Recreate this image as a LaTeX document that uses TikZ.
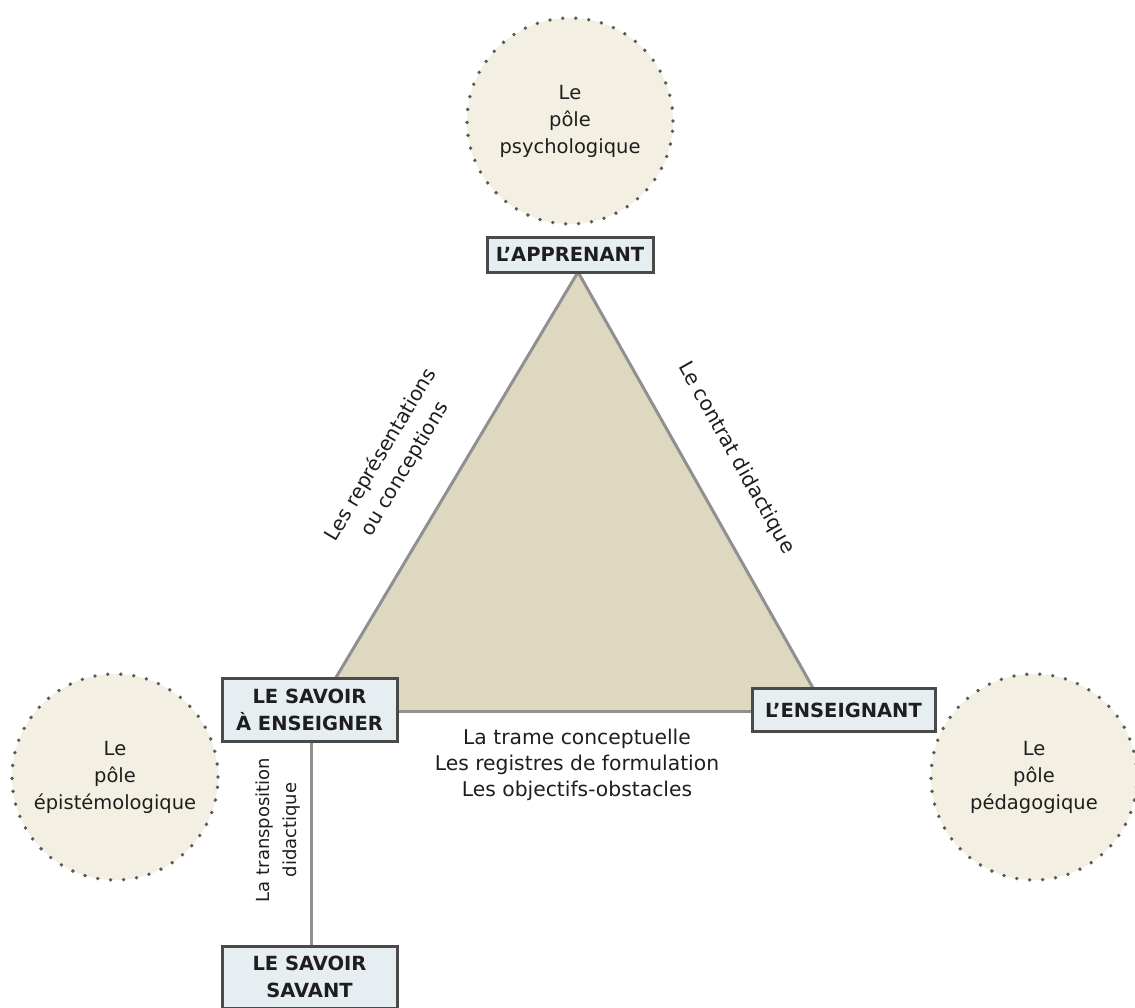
\documentclass[tikz,border=0pt]{standalone}
\usepackage{fontspec}
\setmainfont{DejaVu Sans}
\begin{document}
\begin{tikzpicture}[x=1pt,y=-1pt,
  pole/.style={circle,fill=poleFill,draw=dotGray,line width=3.8pt,
    dash pattern=on 0pt off 13pt,line cap=round,minimum size=206pt,
    align=center,font=\fontsize{19.5}{27}\selectfont,text=textDark},
  actor/.style={rectangle,fill=boxFill,draw=boxEdge,line width=3pt,
    align=center,font=\bfseries\fontsize{19.5}{27}\selectfont,text=textDark,inner sep=0pt},
  edgelabel/.style={align=center,font=\fontsize{20.3}{26}\selectfont,text=textDark},
  side/.style={draw=sideGray,line width=3pt}
]
\definecolor{poleFill}{HTML}{F3F0E3}
\definecolor{dotGray}{HTML}{5A5A5A}
\definecolor{boxFill}{HTML}{E7EEF1}
\definecolor{boxEdge}{HTML}{4A4A4A}
\definecolor{triFill}{HTML}{DDD8BF}
\definecolor{sideGray}{HTML}{909090}
\definecolor{textDark}{HTML}{1E1E1E}

\useasboundingbox (0,0) rectangle (1135,1007);

% the three poles
\node[pole] (psy) at (570,121) {Le\\pôle\\psychologique};
\node[pole] (epi) at (115,777) {Le\\pôle\\épistémologique};
\node[pole] (ped) at (1034,777) {Le\\pôle\\pédagogique};

% corner points of the didactic triangle
\coordinate (top) at (578,272);
\coordinate (bl) at (316,711);
\coordinate (br) at (826,711);

\fill[triFill] (top) -- (bl) -- (br) -- cycle;
\draw[side] (top) -- (bl);
\draw[side] (top) -- (br);
\draw[side] (bl) -- (br);

% link between the two forms of knowledge
\coordinate (vtop) at (311,720);
\coordinate (vbot) at (311,950);
\draw[side] (vtop) -- (vbot);

% the actors
\node[actor,minimum width=166pt,minimum height=35pt] (app) at (570,254.5) {L’APPRENANT};
\node[actor,minimum width=175pt,minimum height=63pt] (sav) at (309.5,710) {LE SAVOIR\\À ENSEIGNER};
\node[actor,minimum width=183pt,minimum height=43pt] (ens) at (843.5,710) {L’ENSEIGNANT};
\node[actor,minimum width=175pt,minimum height=62pt] (savant) at (309.5,977) {LE SAVOIR\\SAVANT};

% labels along the sides
\node[edgelabel,rotate=59.2,font=\fontsize{20}{28}\selectfont] (repr) at (393,462) {Les représentations\\ou conceptions};
\node[edgelabel,rotate=-60.6] (contrat) at (736,458) {Le contrat didactique};
\node[edgelabel] (trame) at (577,765) {La trame conceptuelle\\Les registres de formulation\\Les objectifs-obstacles};
\node[edgelabel,rotate=90,font=\fontsize{18}{27}\selectfont] (transpo) at (278,830) {La transposition\\didactique};
\end{tikzpicture}
\end{document}
